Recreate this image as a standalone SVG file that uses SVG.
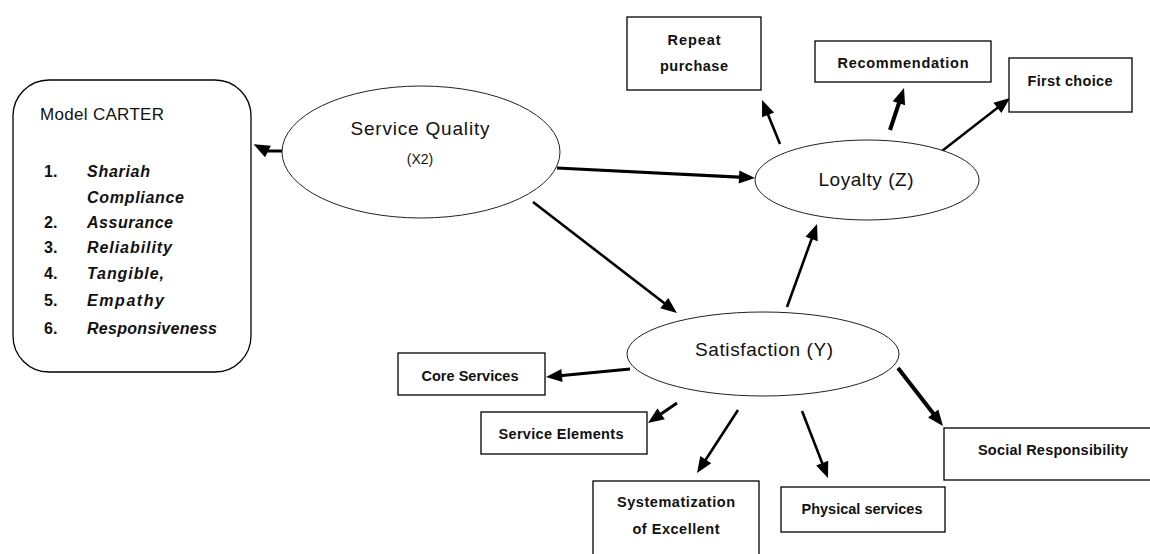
<svg xmlns="http://www.w3.org/2000/svg" width="1150" height="554" viewBox="0 0 1150 554">
<style>
  .box { fill: #fff; stroke: #000; stroke-width: 1.3; }
  .ell { fill: #fff; stroke: #222; stroke-width: 1; }
  .lbl { font-family: "Liberation Sans", Arial, sans-serif; font-size: 14.5px; font-weight: bold; fill: #111; text-anchor: middle; }
  .elab { font-family: "Liberation Sans", Arial, sans-serif; font-size: 19px; fill: #111; text-anchor: middle; }
  .small { font-size: 14px; }
  .mtxt { font-family: "Liberation Sans", Arial, sans-serif; font-size: 16px; fill: #111; }
  .title { font-size: 17px; }
  .num { font-weight: bold; }
  .it { font-style: italic; font-weight: bold; }
  .conn { fill: none; stroke: #000; marker-end: url(#ah); }
</style>
<defs>
  <marker id="ah" markerUnits="userSpaceOnUse" markerWidth="16" markerHeight="13" viewBox="0 0 16 13" refX="10" refY="6.5" orient="auto" overflow="visible">
    <path d="M0,0 L16,6.5 L0,13 z" fill="#000"/>
  </marker>
</defs>
<rect width="1150" height="554" fill="#fff"/>

<g id="connectors">
  <polyline class="conn" stroke-width="3" points="282,151 267,151 259,147"/>
  <line class="conn" stroke-width="3.2" x1="557" y1="168" x2="749" y2="177.6"/>
  <line class="conn" stroke-width="2.6" x1="533" y1="202" x2="672.2" y2="309.3"/>
  <line class="conn" stroke-width="2.6" x1="787" y1="307" x2="815" y2="229.6"/>
  <line class="conn" stroke-width="2.6" x1="780" y1="144" x2="764.3" y2="105.6"/>
  <line class="conn" stroke-width="4" x1="890" y1="130" x2="902.1" y2="93.7"/>
  <line class="conn" stroke-width="2.4" x1="942" y1="151" x2="1005.3" y2="101.7"/>
  <line class="conn" stroke-width="3" x1="630" y1="369" x2="552" y2="376.4"/>
  <line class="conn" stroke-width="3" x1="677" y1="403" x2="652.9" y2="419.6"/>
  <line class="conn" stroke-width="2.6" x1="738" y1="410" x2="700.3" y2="468"/>
  <line class="conn" stroke-width="2.6" x1="802" y1="411" x2="825.8" y2="472.4"/>
  <line class="conn" stroke-width="4" x1="898" y1="368" x2="939.3" y2="421.3"/>
</g>

<g id="model-carter">
  <rect class="box" x="13" y="80" width="238" height="292" rx="36" ry="36" stroke-width="1"/>
  <text class="mtxt title" x="40" y="120" textLength="124" lengthAdjust="spacing">Model CARTER</text>
  <text class="mtxt num" x="44" y="177">1.</text>
  <text class="mtxt it" x="87" y="177" textLength="63" lengthAdjust="spacing">Shariah</text>
  <text class="mtxt it" x="87" y="203" textLength="97" lengthAdjust="spacing">Compliance</text>
  <text class="mtxt num" x="44" y="228">2.</text>
  <text class="mtxt it" x="87" y="228" textLength="86" lengthAdjust="spacing">Assurance</text>
  <text class="mtxt num" x="44" y="253">3.</text>
  <text class="mtxt it" x="87" y="253" textLength="85" lengthAdjust="spacing">Reliability</text>
  <text class="mtxt num" x="44" y="279">4.</text>
  <text class="mtxt it" x="87" y="279" textLength="77" lengthAdjust="spacing">Tangible,</text>
  <text class="mtxt num" x="44" y="306">5.</text>
  <text class="mtxt it" x="87" y="306" textLength="77" lengthAdjust="spacing">Empathy</text>
  <text class="mtxt num" x="44" y="334">6.</text>
  <text class="mtxt it" x="87" y="334" textLength="130" lengthAdjust="spacing">Responsiveness</text>
</g>

<g id="service-quality">
  <ellipse class="ell" cx="421" cy="152" rx="139" ry="66"/>
  <text class="elab" x="420" y="135" textLength="139" lengthAdjust="spacing">Service Quality</text>
  <text class="elab small" x="420" y="164">(X2)</text>
</g>

<g id="loyalty">
  <ellipse class="ell" cx="867" cy="180" rx="112" ry="40"/>
  <text class="elab" x="866" y="186" textLength="95" lengthAdjust="spacing">Loyalty (Z)</text>
</g>

<g id="satisfaction">
  <ellipse class="ell" cx="763" cy="354" rx="136" ry="42"/>
  <text class="elab" x="764" y="356" textLength="138" lengthAdjust="spacing">Satisfaction (Y)</text>
</g>

<g id="repeat-purchase">
  <rect class="box" x="627" y="17" width="134" height="73"/>
  <text class="lbl" x="694" y="45" textLength="53" lengthAdjust="spacing">Repeat</text>
  <text class="lbl" x="694" y="71" textLength="68" lengthAdjust="spacing">purchase</text>
</g>

<g id="recommendation">
  <rect class="box" x="815" y="41" width="176" height="41"/>
  <text class="lbl" x="903" y="68" textLength="131" lengthAdjust="spacing">Recommendation</text>
</g>

<g id="first-choice">
  <rect class="box" x="1009" y="58" width="123" height="54"/>
  <text class="lbl" x="1070" y="86" textLength="85" lengthAdjust="spacing">First choice</text>
</g>

<g id="core-services">
  <rect class="box" x="398" y="353" width="147" height="42"/>
  <text class="lbl" x="470" y="381" textLength="97" lengthAdjust="spacing">Core Services</text>
</g>

<g id="service-elements">
  <rect class="box" x="481" y="412" width="166" height="42"/>
  <text class="lbl" x="561" y="439" textLength="125" lengthAdjust="spacing">Service Elements</text>
</g>

<g id="systematization">
  <rect class="box" x="593" y="481" width="166" height="80"/>
  <text class="lbl" x="676" y="507" textLength="118" lengthAdjust="spacing">Systematization</text>
  <text class="lbl" x="676" y="534" textLength="87" lengthAdjust="spacing">of Excellent</text>
</g>

<g id="physical-services">
  <rect class="box" x="781" y="487" width="164" height="45"/>
  <text class="lbl" x="862" y="514" textLength="121" lengthAdjust="spacing">Physical services</text>
</g>

<g id="social-responsibility">
  <rect class="box" x="944" y="428" width="210" height="52"/>
  <text class="lbl" x="1053" y="455" textLength="150" lengthAdjust="spacing">Social Responsibility</text>
</g>
</svg>
